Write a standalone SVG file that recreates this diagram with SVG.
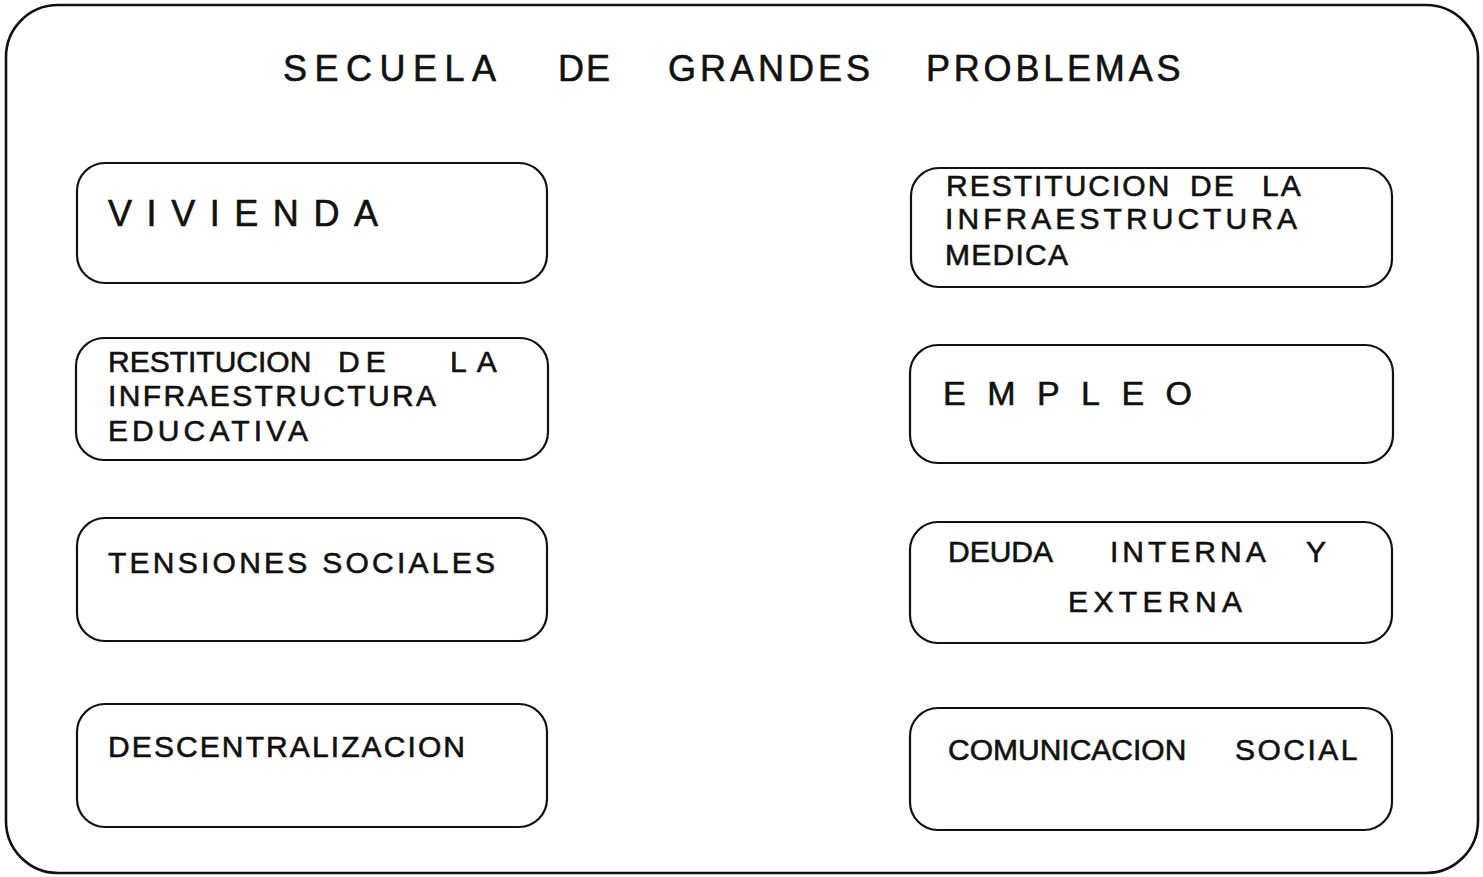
<svg xmlns="http://www.w3.org/2000/svg" width="1483" height="877" viewBox="0 0 1483 877">
<style>
.frame{fill:none;stroke:#111;stroke-width:2.6;}
.box{fill:none;stroke:#111;stroke-width:2.2;}
.t{font-family:"Liberation Sans",Arial,sans-serif;fill:#111;stroke:#111;stroke-width:0.6;}
.title{font-size:36px;}
.l{font-size:30px;}
</style>
<rect width="1483" height="877" fill="#ffffff"/>
<g id="frame">
<rect class="frame" x="6" y="5" width="1472" height="868" rx="52" ry="52"/>
</g>
<g id="title">
<text class="t title" y="81"><tspan x="283" letter-spacing="7.5">SECUELA</tspan><tspan x="558" letter-spacing="2">DE</tspan><tspan x="668" letter-spacing="4">GRANDES</tspan><tspan x="926" letter-spacing="3.8">PROBLEMAS</tspan></text>
</g>
<g id="connectors"></g>
<g id="n-vivienda">
<rect class="box" x="77" y="163" width="470" height="120" rx="28"/>
<text class="t" x="108" y="226" font-size="36" textLength="270" lengthAdjust="spacing">VIVIENDA</text>
</g>
<g id="n-educativa">
<rect class="box" x="76" y="338" width="472" height="122" rx="28"/>
<text class="t l" y="372"><tspan x="108">RESTITUCION</tspan><tspan x="338" letter-spacing="6">DE</tspan><tspan x="450" letter-spacing="10">LA</tspan></text>
<text class="t l" x="108" y="406" textLength="328" lengthAdjust="spacing">INFRAESTRUCTURA</text>
<text class="t l" x="108" y="441" textLength="200" lengthAdjust="spacing">EDUCATIVA</text>
</g>
<g id="n-tensiones">
<rect class="box" x="77" y="518" width="470" height="123" rx="28"/>
<text class="t l" x="108" y="573" textLength="387" lengthAdjust="spacing">TENSIONES SOCIALES</text>
</g>
<g id="n-descentralizacion">
<rect class="box" x="77" y="704" width="470" height="123" rx="28"/>
<text class="t l" x="108" y="757" textLength="357" lengthAdjust="spacing">DESCENTRALIZACION</text>
</g>
<g id="n-medica">
<rect class="box" x="911" y="168" width="481" height="119" rx="28"/>
<text class="t l" y="196" letter-spacing="2"><tspan x="946">RESTITUCION</tspan><tspan x="1190">DE</tspan><tspan x="1262">LA</tspan></text>
<text class="t l" x="945" y="229" textLength="352" lengthAdjust="spacing">INFRAESTRUCTURA</text>
<text class="t l" x="945" y="265" textLength="123" lengthAdjust="spacing">MEDICA</text>
</g>
<g id="n-empleo">
<rect class="box" x="910" y="345" width="483" height="118" rx="28"/>
<text class="t" x="943" y="405" font-size="34" textLength="249" lengthAdjust="spacing">EMPLEO</text>
</g>
<g id="n-deuda">
<rect class="box" x="910" y="522" width="482" height="121" rx="28"/>
<text class="t l" y="562"><tspan x="948">DEUDA</tspan><tspan x="1110" letter-spacing="4">INTERNA</tspan><tspan x="1306">Y</tspan></text>
<text class="t l" x="1068" y="612" textLength="174" lengthAdjust="spacing">EXTERNA</text>
</g>
<g id="n-comunicacion">
<rect class="box" x="910" y="708" width="482" height="122" rx="28"/>
<text class="t l" y="760"><tspan x="948">COMUNICACION</tspan><tspan x="1235" letter-spacing="2.5">SOCIAL</tspan></text>
</g>
</svg>
